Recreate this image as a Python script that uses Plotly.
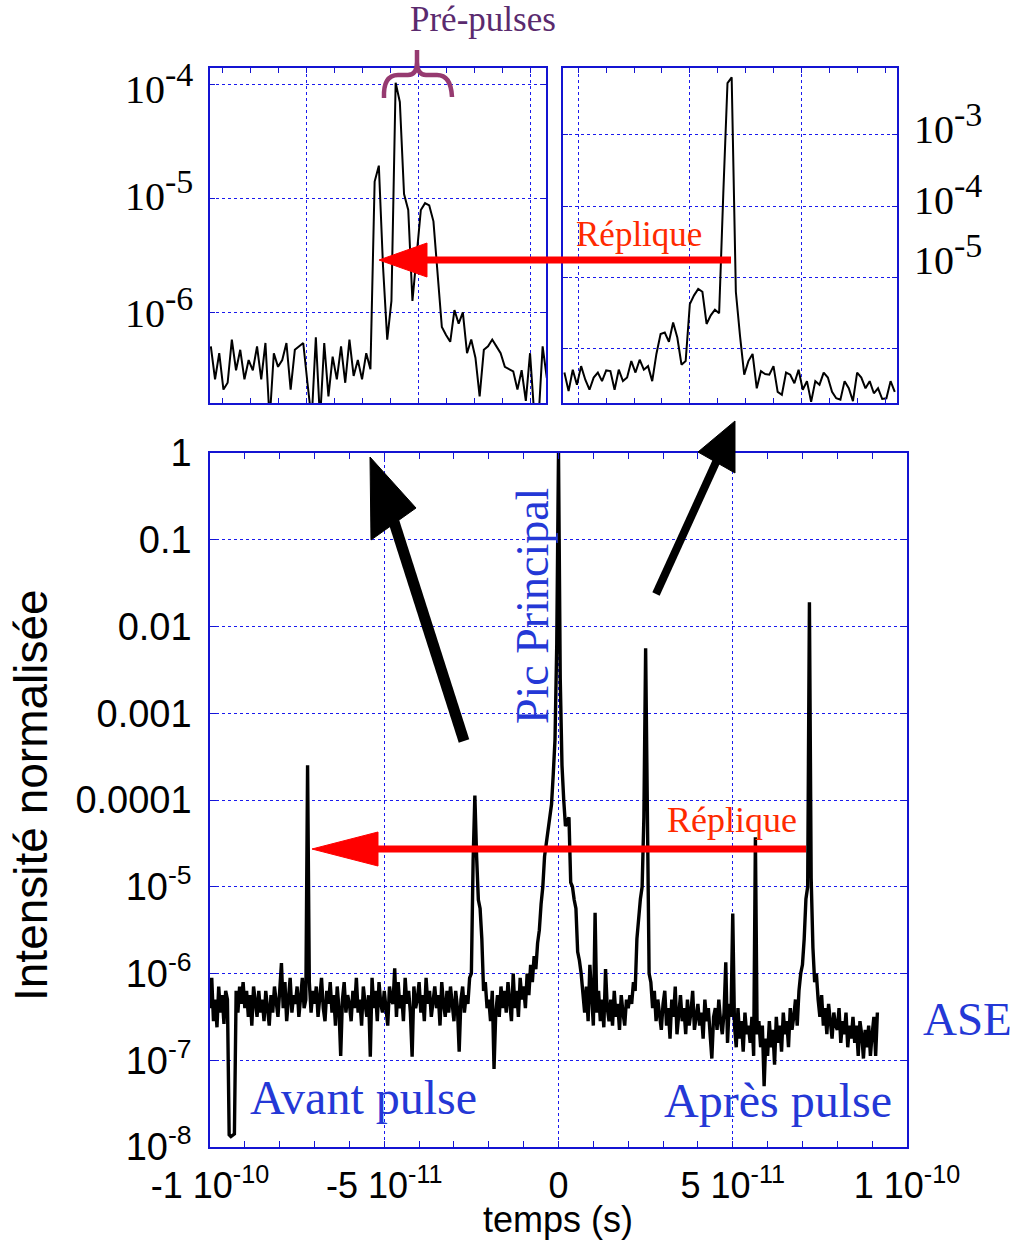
import numpy as np
import plotly.graph_objects as go

W, H = 1017, 1240

# ---------------- data ----------------
# main trace: sampled every 0.5 ps starting at -100 ps, values are log10(normalised intensity)
main_t0_ps = -100.0
main_step_ps = 0.5
main_log10_intensity = [
    -6.40, -6.05, -6.55, -6.30, -6.62, -6.15, -6.45, -6.25, -6.58, -6.20,
    -6.30, -7.86, -7.88, -7.87, -7.85, -6.20, -6.45, -6.15, -6.35, -6.10,
    -6.40, -6.20, -6.50, -6.25, -6.60, -6.15, -6.35, -6.50, -6.20, -6.45,
    -6.30, -6.55, -6.20, -6.40, -6.60, -6.25, -6.45, -6.15, -6.35, -6.50,
    -6.20, -5.88, -6.40, -6.10, -6.55, -6.30, -6.05, -6.45, -6.25, -6.35,
    -6.15, -6.50, -6.25, -6.05, -6.40, -6.30, -3.60, -6.10, -6.45, -6.20,
    -6.35, -6.15, -6.50, -6.25, -6.05, -6.40, -6.55, -6.20, -6.35, -6.10,
    -6.45, -6.25, -6.60, -6.15, -6.40, -6.95, -6.30, -6.10, -6.45, -6.25,
    -6.35, -6.55, -6.20, -6.40, -6.05, -6.45, -6.30, -6.60, -6.15, -6.35,
    -6.50, -6.25, -6.96, -6.05, -6.40, -6.20, -6.55, -6.10, -6.35, -6.45,
    -6.20, -6.40, -6.60, -6.15, -6.30, -6.35, -5.94, -6.50, -6.10, -6.40,
    -6.25, -6.55, -6.05, -6.35, -6.20, -6.45, -6.96, -6.15, -6.40, -6.30,
    -6.10, -6.45, -6.25, -6.55, -6.05, -6.35, -6.20, -6.50, -6.30, -6.15,
    -6.40, -6.25, -6.60, -6.10, -6.35, -6.50, -6.20, -6.45, -6.15, -6.35,
    -6.55, -6.20, -6.40, -6.90, -6.30, -6.15, -6.45, -6.25, -6.35, -6.05,
    -6.00, -4.70, -3.95, -4.65, -5.15, -5.25, -5.60, -6.20, -6.10, -6.40,
    -6.30, -6.55, -6.20, -7.10, -6.45, -6.25, -6.50, -6.15, -6.40, -6.20,
    -6.45, -6.10, -6.35, -6.55, -6.00, -6.40, -6.20, -6.50, -6.05, -6.30,
    -6.15, -6.40, -6.00, -6.25, -5.90, -6.10, -5.80, -5.95, -5.65, -5.50,
    -5.20, -5.00, -4.65, -4.50, -4.40, -4.20, -4.05, -3.70, -3.30, -2.20,
    0.00, -2.60, -3.60, -4.00, -4.30, -4.25, -4.20, -4.95, -5.00, -5.15,
    -5.25, -5.75, -5.85, -6.00, -6.20, -6.45, -6.15, -6.55, -5.90, -6.35,
    -6.60, -5.30, -6.45, -6.20, -6.55, -6.30, -6.62, -5.95, -6.40, -6.55,
    -6.30, -6.60, -6.20, -6.50, -6.35, -6.65, -6.25, -6.45, -6.60, -6.30,
    -6.40, -6.25, -6.35, -6.10, -6.20, -5.60, -5.30, -5.14, -5.00, -4.20,
    -2.25, -4.60, -6.00, -6.10, -6.40, -6.20, -6.55, -6.30, -6.45, -6.65,
    -6.35, -6.20, -6.60, -6.40, -6.75, -6.30, -6.50, -6.15, -6.70, -6.45,
    -6.25, -6.55, -6.40, -6.70, -6.30, -6.60, -6.45, -6.20, -6.65, -6.50,
    -6.35, -6.60, -6.45, -6.75, -6.30, -6.55, -6.40, -6.70, -6.98, -6.50,
    -6.40, -6.65, -6.30, -6.55, -6.70, -6.45, -5.87, -6.80, -6.35, -6.50,
    -5.31, -6.60, -6.85, -6.40, -6.75, -6.55, -6.90, -6.45, -6.70, -6.60,
    -6.80, -6.50, -6.95, -4.43, -6.70, -6.55, -6.85, -6.60, -7.30, -6.75,
    -6.95, -6.55, -6.85, -6.65, -7.05, -6.50, -6.80, -6.60, -6.90, -6.45,
    -6.70, -6.55, -6.85, -6.40, -6.65, -6.50, -6.30, -6.60, -6.20, -6.00,
    -5.90, -5.60, -5.14, -5.00, -1.72, -4.90, -5.70, -6.10, -6.00, -6.30,
    -6.50, -6.25, -6.60, -6.40, -6.70, -6.35, -6.55, -6.75, -6.45, -6.60,
    -6.65, -6.40, -6.80, -6.55, -6.70, -6.45, -6.85, -6.60, -6.75, -6.50,
    -6.80, -6.60, -6.95, -6.55, -6.70, -6.98, -6.65, -6.85, -6.60, -6.95,
    -6.70, -6.50, -6.95, -6.45,
]

# inset 1 (pre-pulses zoom), arbitrary time units, sampled every 0.15 unit from -3.4
inset1_u0 = -3.4
inset1_step = 0.15
inset1_log10_intensity = [
    -6.30, -6.59, -6.36, -6.68, -6.62, -6.24, -6.51, -6.33, -6.59, -6.42,
    -6.51, -6.30, -6.59, -6.27, -6.95, -6.36, -6.48, -6.42, -6.27, -6.68,
    -6.33, -6.30, -6.27, -6.62, -6.95, -6.22, -6.95, -6.27, -6.74, -6.39,
    -6.59, -6.30, -6.62, -6.24, -6.56, -6.42, -6.59, -6.36, -6.50, -4.85,
    -4.71, -5.60, -6.24, -5.90, -3.98, -4.15, -4.96, -5.10, -5.90, -5.50,
    -5.10, -5.04, -5.06, -5.20, -5.65, -6.13, -6.20, -6.26, -5.98, -6.10,
    -6.00, -6.36, -6.24, -6.40, -6.74, -6.33, -6.30, -6.24, -6.30, -6.36,
    -6.48, -6.50, -6.52, -6.68, -6.51, -6.78, -6.36, -6.90, -6.95, -6.30,
    -6.58,
]

# inset 2 (replica zoom), arbitrary time units, sampled every 0.15 unit from -4.5
inset2_u0 = -4.5
inset2_step = 0.15
inset2_log10_intensity = [
    -6.33, -6.59, -6.29, -6.50, -6.24, -6.43, -6.57, -6.40, -6.33, -6.45,
    -6.30, -6.31, -6.57, -6.29, -6.45, -6.40, -6.17, -6.33, -6.15, -6.29,
    -6.24, -6.45, -6.07, -5.79, -5.77, -5.90, -5.63, -5.84, -6.22, -6.17,
    -5.37, -5.25, -5.16, -5.20, -5.65, -5.53, -5.45, -5.50, -3.82, -2.28,
    -2.20, -5.20, -5.82, -6.36, -6.17, -6.07, -6.55, -6.31, -6.35, -6.36,
    -6.24, -6.60, -6.64, -6.33, -6.36, -6.48, -6.29, -6.57, -6.45, -6.74,
    -6.45, -6.50, -6.33, -6.40, -6.60, -6.69, -6.71, -6.45, -6.55, -6.73,
    -6.33, -6.40, -6.55, -6.45, -6.62, -6.55, -6.70, -6.69, -6.45, -6.60,
]

x_tick_vals = [-100, -50, 0, 50, 100]
x_tick_text = ["-1 10<sup>-10</sup>", "-5 10<sup>-11</sup>", "0",
               "5 10<sup>-11</sup>", "1 10<sup>-10</sup>"]
y_tick_vals = [1, 0.1, 0.01, 0.001, 1e-4, 1e-5, 1e-6, 1e-7, 1e-8]
y_tick_text = ["1", "0.1", "0.01", "0.001", "0.0001", "10<sup>-5</sup>",
               "10<sup>-6</sup>", "10<sup>-7</sup>", "10<sup>-8</sup>"]
inset1_exponents = ["-4", "-5", "-6"]
inset2_exponents = ["-3", "-4", "-5"]

# ---------------- derived series ----------------
main_time = main_t0_ps + main_step_ps * np.arange(len(main_log10_intensity))
main_int = np.power(10.0, main_log10_intensity)
in1_u = inset1_u0 + inset1_step * np.arange(len(inset1_log10_intensity))
in1_int = np.power(10.0, inset1_log10_intensity)
in2_u = inset2_u0 + inset2_step * np.arange(len(inset2_log10_intensity))
in2_int = np.power(10.0, inset2_log10_intensity)

# ---------------- styling ----------------
BLUE = "#1414d2"
GRID = "#1a1aee"
TXT_BLUE = "#2438d6"
RED = "#ff0000"
RED_TXT = "#ff2a00"
PURPLE = "#5a2a6e"
BRACE = "#963a70"
SANS = "Liberation Sans, Arial, sans-serif"
SERIF = "Liberation Serif, Times New Roman, serif"


def fx(px):
    return px / W


def fy(py):
    return 1 - py / H


def P(px, py):
    return f"{fx(px):.5f},{fy(py):.5f}"


fig = go.Figure()
fig.add_trace(go.Scatter(x=main_time, y=main_int, mode="lines",
                         line=dict(color="black", width=3.4), xaxis="x", yaxis="y"))
fig.add_trace(go.Scatter(x=in1_u, y=in1_int, mode="lines",
                         line=dict(color="black", width=2), xaxis="x2", yaxis="y2"))
fig.add_trace(go.Scatter(x=in2_u, y=in2_int, mode="lines",
                         line=dict(color="black", width=2), xaxis="x3", yaxis="y3"))

common = dict(showline=True, linecolor=BLUE, linewidth=1.5, mirror="allticks",
              ticks="inside", tickcolor=BLUE, showgrid=True, gridcolor=GRID,
              gridwidth=1, griddash="dot", zeroline=False, automargin=False)

fig.update_layout(
    width=W, height=H, margin=dict(l=0, r=0, t=0, b=0),
    paper_bgcolor="white", plot_bgcolor="white", showlegend=False,
    font=dict(family=SANS, color="black"),
    xaxis=dict(domain=[fx(210), fx(907)], range=[-100, 100], anchor="y",
               tickvals=x_tick_vals, ticktext=x_tick_text, ticklen=6,
               tickfont=dict(family=SANS, size=36, color="black"),
               ticklabelstandoff=6,
               minor=dict(dtick=10, tick0=0, ticks="inside", ticklen=6,
                          tickcolor=BLUE, showgrid=False),
               **common),
    yaxis=dict(domain=[fy(1147), fy(453)], type="log", range=[-8, 0], anchor="x",
               tickvals=y_tick_vals, ticktext=y_tick_text, ticklen=6,
               tickfont=dict(family=SANS, size=38, color="black"),
               ticklabelstandoff=9, **common),
    xaxis2=dict(domain=[fx(210), fx(546)], range=[-3.43, 8.57], anchor="y2",
                tick0=0, dtick=4, ticklen=5, showticklabels=False,
                minor=dict(dtick=1, tick0=0, ticks="inside", ticklen=5,
                           tickcolor=BLUE, showgrid=False),
                **common),
    yaxis2=dict(domain=[fy(403), fy(68)], type="log", range=[-6.798, -3.851],
                anchor="x2", tickvals=[1e-6, 1e-5, 1e-4], ticklen=5,
                showticklabels=False, **common),
    xaxis3=dict(domain=[fx(563), fx(897)], range=[-4.55, 7.43], anchor="y3",
                tick0=0, dtick=4, ticklen=5, showticklabels=False,
                minor=dict(dtick=1, tick0=0, ticks="inside", ticklen=5,
                           tickcolor=BLUE, showgrid=False),
                **common),
    yaxis3=dict(domain=[fy(403), fy(68)], type="log", range=[-6.756, -2.069],
                anchor="x3", tickvals=[1e-6, 1e-5, 1e-4, 1e-3], ticklen=5,
                showticklabels=False, **common),
)

ann = []


def text(t, px, py, size, color, family, xanchor="center", yanchor="middle", angle=0):
    ann.append(dict(text=t, x=fx(px), y=fy(py), xref="paper", yref="paper",
                    showarrow=False, xanchor=xanchor, yanchor=yanchor, borderpad=0,
                    textangle=angle, font=dict(size=size, color=color, family=family)))


def pow10(exp):
    return f'10<sup><span style="font-size:34px">{exp}</span></sup>'


# axis titles
text("Intensité normalisée", 31, 795, 46, "black", SANS, angle=-90)
text("temps (s)", 558, 1219, 36, "black", SANS)
# inset tick labels
for e, py in zip(inset1_exponents, [84, 191, 308]):
    text(pow10(e), 194, py, 40, "black", SERIF, xanchor="right")
for e, py in zip(inset2_exponents, [124, 195, 255]):
    text(pow10(e), 913, py, 40, "black", SERIF, xanchor="left")
# labels
text("Pré-pulses", 483, 20, 35, PURPLE, SERIF)
text("Réplique", 575, 234, 35, RED_TXT, SERIF, xanchor="left")
text("Réplique", 666, 820, 36, RED_TXT, SERIF, xanchor="left")
text("Pic Principal", 532, 606, 46, TXT_BLUE, SERIF, angle=-90)
text("Avant pulse", 249, 1097, 48, TXT_BLUE, SERIF, xanchor="left")
text("Après pulse", 663, 1100, 48, TXT_BLUE, SERIF, xanchor="left")
text("ASE", 922, 1019, 47, TXT_BLUE, SERIF, xanchor="left")
fig.update_layout(annotations=ann)

shapes = []


def line(x0, y0, x1, y1, color, width):
    shapes.append(dict(type="line", xref="paper", yref="paper",
                       x0=fx(x0), y0=fy(y0), x1=fx(x1), y1=fy(y1),
                       line=dict(color=color, width=width)))


def poly(pts, color):
    path = "M " + " L ".join(P(a, b) for a, b in pts) + " Z"
    shapes.append(dict(type="path", xref="paper", yref="paper", path=path,
                       fillcolor=color, line=dict(color=color, width=1)))


# red arrows (replica)
line(425, 260, 731, 260, RED, 7)
poly([(379, 260), (427, 243), (427, 277)], RED)
line(376, 849, 806, 849, RED, 7)
poly([(312, 849), (378, 832), (378, 866)], RED)
# black arrows
line(464, 741, 394, 522, "black", 11)
poly([(370, 457), (371, 540), (416, 508)], "black")
line(656, 594, 717, 460, "black", 8)
poly([(735, 421), (698, 452), (735, 473)], "black")
# brace
brace = (f"M {P(384, 98)} Q {P(383, 75)} {P(398, 75)} L {P(408, 75)} "
         f"Q {P(417, 75)} {P(417, 62)} L {P(417, 50)} M {P(417, 62)} "
         f"Q {P(417, 75)} {P(426, 75)} L {P(437, 75)} Q {P(451, 75)} {P(452, 97)}")
shapes.append(dict(type="path", xref="paper", yref="paper", path=brace,
                   line=dict(color=BRACE, width=4.5)))
fig.update_layout(shapes=shapes)

fig.write_html("out.html", config={"displayModeBar": False},
               post_script="document.body.style.margin='0px';"
                           "document.body.style.padding='0px';")
